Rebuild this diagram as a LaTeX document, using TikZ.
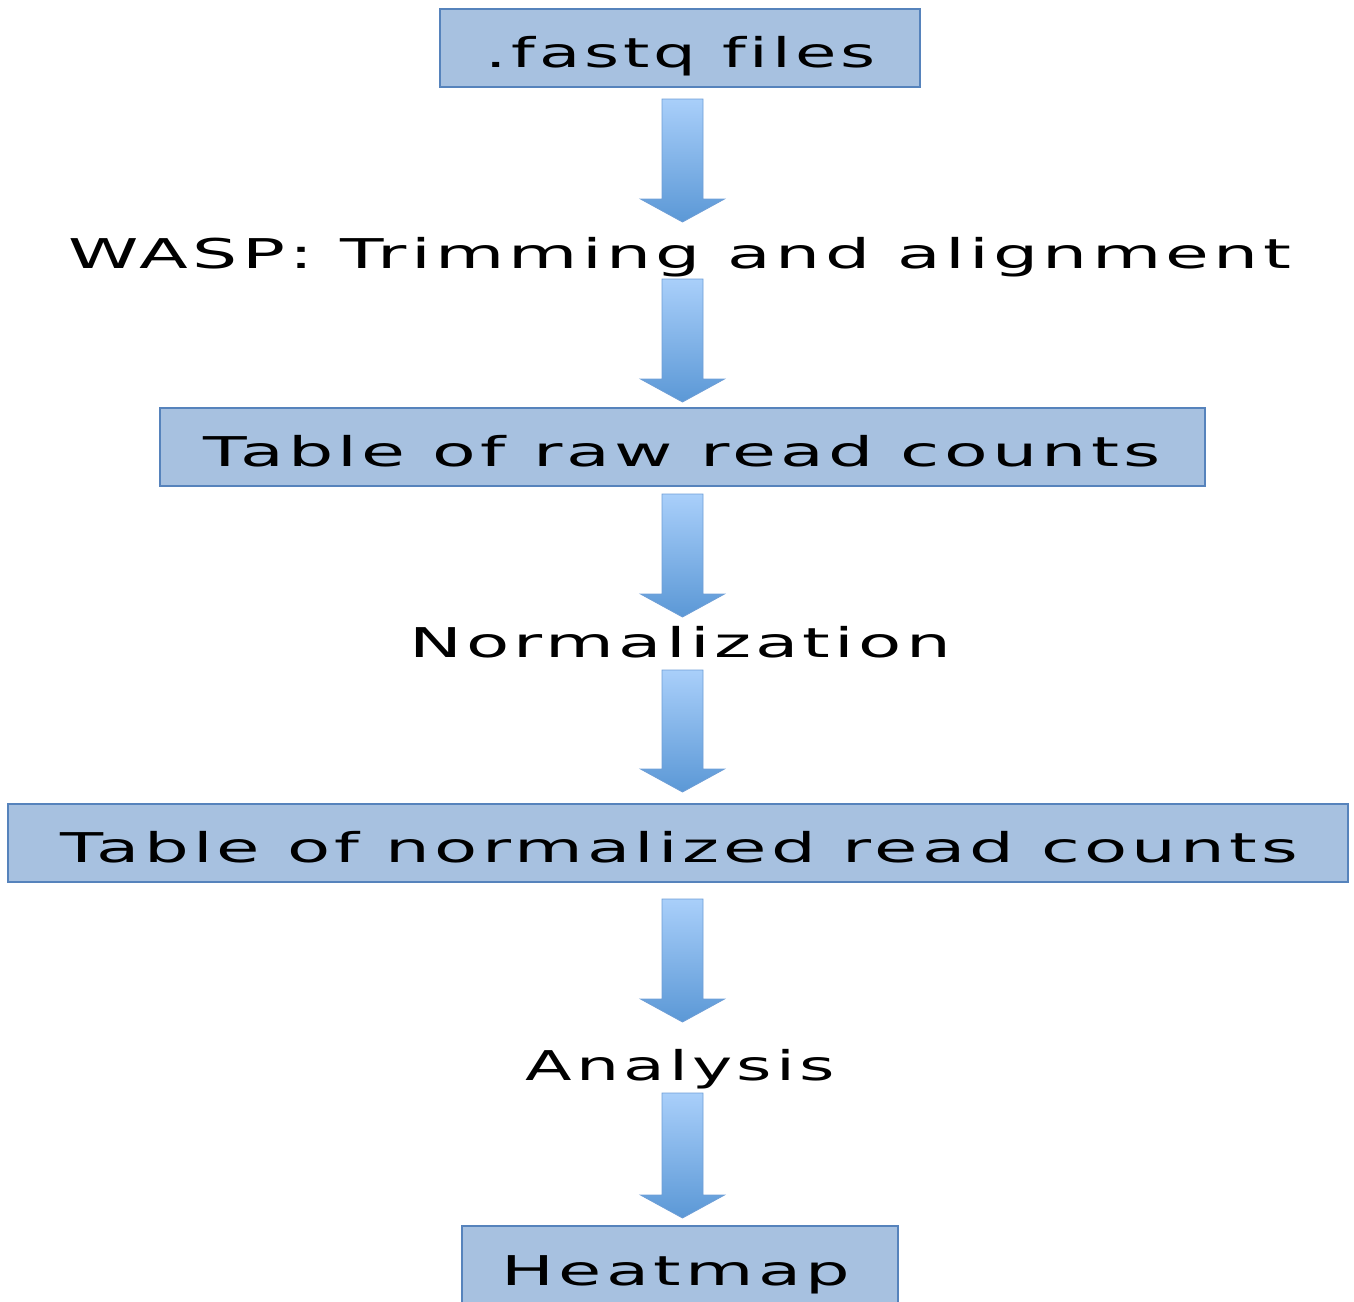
\documentclass[tikz,border=0pt]{standalone}
\usepackage{fontspec}
\setmainfont{DejaVu Sans}[LetterSpace=6,Ligatures=NoCommon]
\usepackage{graphicx}
\usetikzlibrary{calc}
\definecolor{boxfill}{HTML}{A7C1E0}
\definecolor{boxline}{HTML}{5683BC}
\definecolor{arrtop}{HTML}{A9CFFA}
\definecolor{arrbot}{HTML}{5B98D6}
\definecolor{arrline}{HTML}{6E9ED6}
\newcommand\wtext[2]{\resizebox{#1pt}{\height}{\fontsize{41}{49}\selectfont #2}}
\newcommand\blockarrow[2]{%
  \path[blockarrowstyle] let \p1=(#1), \p2=(#2) in
    (\x1-20.5pt,\y1) -- (\x1+20.5pt,\y1) -- (\x1+20.5pt,\y2+23pt) -- (\x1+42pt,\y2+23pt)
    -- (\x1,\y2) -- (\x1-42pt,\y2+23pt) -- (\x1-20.5pt,\y2+23pt) -- cycle;}
\begin{document}
\begin{tikzpicture}[x=1pt,y=1pt,
  stepbox/.style={draw=boxline, line width=2pt, fill=boxfill, inner sep=0pt, minimum height=78pt},
  steptext/.style={inner sep=0pt, anchor=base},
  blockarrowstyle/.style={top color=arrtop, bottom color=arrbot, draw=arrline, line width=0.8pt}]
\useasboundingbox (0,0) rectangle (1354,-1301);
\clip (0,0) rectangle (1354,-1301);
\coordinate (axis) at (682.5,0);
% boxes
\node[stepbox, minimum width=480pt] (b1) at (680,-48) {};
\node[steptext] (b1t) at (681,-67) {\wtext{390}{.fastq files}};
\node[steptext] (t1) at (680,-268) {\wtext{1222}{WASP: Trimming and alignment}};
\node[stepbox, minimum width=1045pt] (b2) at (682.5,-447) {};
\node[steptext] (b2t) at (682.5,-466) {\wtext{957}{Table of raw read counts}};
\node[steptext] (t2) at (680,-657) {\wtext{542}{Normalization}};
\node[stepbox, minimum width=1340pt] (b3) at (678,-843) {};
\node[steptext] (b3t) at (679.5,-862) {\wtext{1237}{Table of normalized read counts}};
\node[steptext] (t3) at (680.5,-1080) {\wtext{309}{Analysis}};
\node[stepbox, minimum width=436pt, minimum height=82pt, anchor=north] (b4) at (680,-1225) {};
\node[steptext] (b4t) at (676,-1285) {\wtext{348}{Heatmap}};
% arrows
\coordinate (a1s) at ($(b1.south -| axis)+(0,-11)$);
\coordinate (a1e) at ($(t1.base -| axis)+(0,46)$);
\coordinate (a2s) at ($(t1.base -| axis)+(0,-11)$);
\coordinate (a2e) at ($(b2.north -| axis)+(0,5)$);
\coordinate (a3s) at ($(b2.south -| axis)+(0,-7)$);
\coordinate (a3e) at ($(t2.base -| axis)+(0,40)$);
\coordinate (a4s) at ($(t2.base -| axis)+(0,-13)$);
\coordinate (a4e) at ($(b3.north -| axis)+(0,11)$);
\coordinate (a5s) at ($(b3.south -| axis)+(0,-16)$);
\coordinate (a5e) at ($(t3.base -| axis)+(0,58)$);
\coordinate (a6s) at ($(t3.base -| axis)+(0,-13)$);
\coordinate (a6e) at ($(b4.north -| axis)+(0,7)$);
\blockarrow{a1s}{a1e}
\blockarrow{a2s}{a2e}
\blockarrow{a3s}{a3e}
\blockarrow{a4s}{a4e}
\blockarrow{a5s}{a5e}
\blockarrow{a6s}{a6e}
\end{tikzpicture}
\end{document}
